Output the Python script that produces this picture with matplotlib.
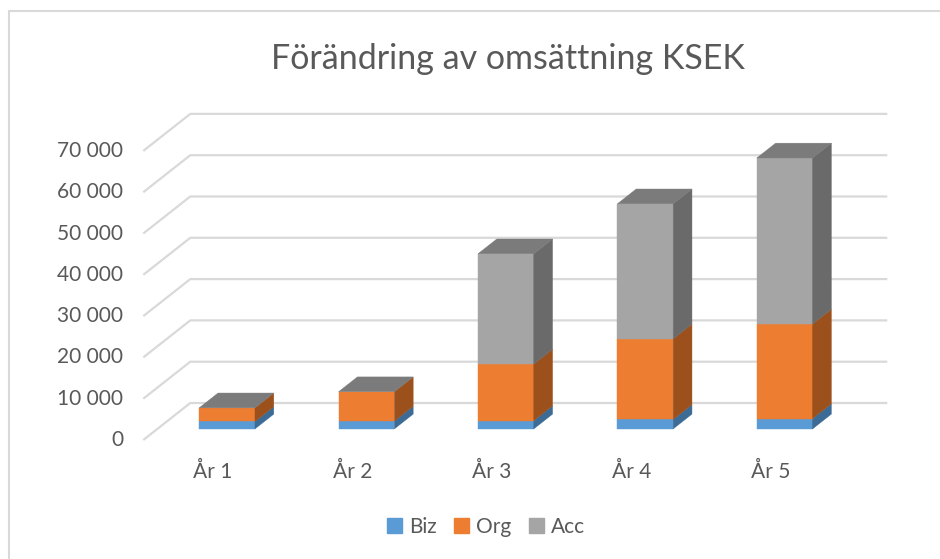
import matplotlib
matplotlib.use("Agg")
import matplotlib.pyplot as plt
from matplotlib.patches import Polygon, Rectangle, Patch

# data (KSEK)
years = ["År 1", "År 2", "År 3", "År 4", "År 5"]
biz = [1800, 1900, 2000, 2300, 2500]
org = [3300, 7100, 13700, 19500, 22900]
acc = [0, 0, 26700, 32700, 40200]
yticks = [0, 10000, 20000, 30000, 40000, 50000, 60000, 70000]

series = [
    ("Biz", biz, "#5B9BD5", "#3C6B95"),
    ("Org", org, "#ED7D31", "#9C511D"),
    ("Acc", acc, "#A5A5A5", "#6A6A6A"),
]
top_color = "#7B7B7B"
grid_color = "#D9D9D9"
text_color = "#595959"

# oblique projection: full depth shifts by DX categories and DV value units
DX, DV = 0.337, 8960
D0, D1 = 0.3, 0.7    # bar depth span
W = 0.4              # bar width

plt.rcParams["font.family"] = ["Lato", "DejaVu Sans"]

fig = plt.figure(figsize=(9.4, 5.59), dpi=100)
W_PX, H_PX = 940, 559

# axes placed so that category x -> 213 + 139.4*x px, value v -> 440 - v*0.00413 px
xlim = (-0.6, 4.9)
ylim = (-3000, 82000)
left = (213 + 139.4 * xlim[0]) / W_PX
right = (213 + 139.4 * xlim[1]) / W_PX
bottom = (H_PX - 440 + ylim[0] * 0.00413) / H_PX
top = (H_PX - 440 + ylim[1] * 0.00413) / H_PX
ax = fig.add_axes([left, bottom, right - left, top - bottom])
ax.set_xlim(*xlim)
ax.set_ylim(*ylim)
ax.axis("off")

n = len(years)
x0, x1 = -0.5, n - 0.5

# wall/floor gridlines
for v in yticks:
    ax.plot([x0, x0 + DX, x1 + DX], [v, v + DV, v + DV],
            color=grid_color, lw=1.6, zorder=1, solid_capstyle="butt")
    ax.annotate(f"{v:,}".replace(",", " "), (x0, v), xytext=(-20, 0),
                textcoords="offset pixels", ha="right", va="center",
                fontsize=15, color=text_color)

# stacked 3D bars
for i in range(n):
    base = 0
    xl = i - W / 2 + D0 * DX
    xr = xl + W
    sx = (D1 - D0) * DX
    sv = (D1 - D0) * DV
    for name, vals, front, side in series:
        h = vals[i]
        b = base + D0 * DV
        t = b + h
        if h > 0:
            ax.add_patch(Rectangle((xl, b), W, h, facecolor=front,
                                   edgecolor=front, lw=0.3, zorder=3))
            ax.add_patch(Polygon([(xr, b), (xr, t), (xr + sx, t + sv), (xr + sx, b + sv)],
                                 closed=True, facecolor=side, edgecolor=side,
                                 lw=0.3, zorder=3))
        base += h
    t = base + D0 * DV
    ax.add_patch(Polygon([(xl, t), (xr, t), (xr + sx, t + sv), (xl + sx, t + sv)],
                         closed=True, facecolor=top_color, edgecolor=top_color,
                         lw=0.3, zorder=3))
    ax.annotate(years[i], (i, 0), xytext=(0, -32), textcoords="offset pixels",
                ha="center", va="center", fontsize=15, color=text_color)

fig.text(508 / W_PX, 1 - 59 / H_PX, "Förändring av omsättning KSEK",
         ha="center", va="center", fontsize=24.5, color=text_color)

handles = [Patch(facecolor=c, edgecolor=c, label=name) for name, _, c, _ in series]
fig.legend(handles=handles, loc="center", bbox_to_anchor=(486 / W_PX, 1 - 527 / H_PX),
           ncol=3, frameon=False, fontsize=15, labelcolor=text_color,
           handlelength=0.7, handleheight=0.7, handletextpad=0.35, columnspacing=0.85)

# chart frame (only top/left edges fall inside the picture)
fig.add_artist(Rectangle((8.5 / W_PX, -0.1), 1.1, 1 - 10.5 / H_PX + 0.1,
                         transform=fig.transFigure, fill=False,
                         edgecolor="#D9D9D9", lw=1.5))

fig.savefig("out.png", dpi=100)
